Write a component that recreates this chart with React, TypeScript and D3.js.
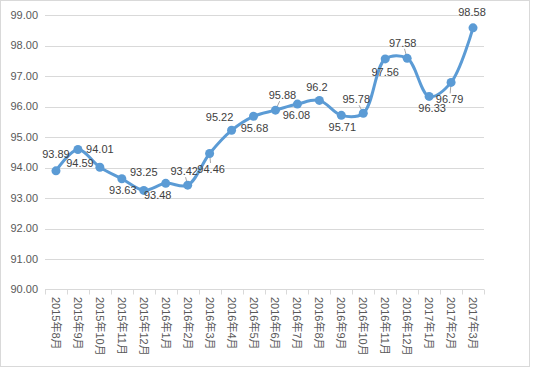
import React from "react";
import * as d3 from "d3";

const months = [
  "2015年8月", "2015年9月", "2015年10月", "2015年11月", "2015年12月",
  "2016年1月", "2016年2月", "2016年3月", "2016年4月", "2016年5月",
  "2016年6月", "2016年7月", "2016年8月", "2016年9月", "2016年10月",
  "2016年11月", "2016年12月", "2017年1月", "2017年2月", "2017年3月",
];
const values = [
  93.89, 94.59, 94.01, 93.63, 93.25, 93.48, 93.42, 94.46, 95.22, 95.68,
  95.88, 96.08, 96.2, 95.71, 95.78, 97.56, 97.58, 96.33, 96.79, 98.58,
];
const valueLabels = [
  "93.89", "94.59", "94.01", "93.63", "93.25", "93.48", "93.42", "94.46", "95.22", "95.68",
  "95.88", "96.08", "96.2", "95.71", "95.78", "97.56", "97.58", "96.33", "96.79", "98.58",
];
const yTicks = [90, 91, 92, 93, 94, 95, 96, 97, 98, 99];

// label placement (dx, dy of label centre from the point), like Excel's "best fit"
const labelOffsets = [
  [0, -17], [2, 14], [0, -18], [1, 11], [0, -18], [-8, 12], [-3.5, -14], [1.5, 15.5],
  [-12, -13.5], [1, 12], [7, -15], [-1, 11], [-2.5, -13], [1, 11.5], [-7, -14],
  [0, 13], [-4.5, -15.5], [3, 12], [-1.5, 17], [-1, -15.5],
];
// labels that were dragged away and got a leader line
const leaders = [6, 7, 10, 14, 16, 18];

const App = () => {
  const ref = React.useRef<HTMLDivElement>(null);

  React.useEffect(() => {
    const W = 534, H = 368;
    const left = 45, right = 484, top = 15, bottom = 289.5;
    d3.select(ref.current).selectAll("*").remove();

    const svg = d3
      .select(ref.current)
      .append("svg")
      .attr("width", W)
      .attr("height", H)
      .style("display", "block")
      .style("font-family", "'Liberation Sans', Arial, 'Noto Sans CJK SC', sans-serif");

    svg
      .append("rect")
      .attr("x", 0.5)
      .attr("y", 0.5)
      .attr("width", 529)
      .attr("height", 366)
      .attr("fill", "#fff")
      .attr("stroke", "#d9d9d9");

    const x = d3.scaleBand().domain(months).range([left, right]);
    const y = d3.scaleLinear().domain([90, 99]).range([bottom, top]);

    // gridlines
    svg
      .append("g")
      .selectAll("line")
      .data(yTicks.slice(1))
      .join("line")
      .attr("x1", left)
      .attr("x2", right)
      .attr("y1", (d) => Math.round(y(d)) + 0.5)
      .attr("y2", (d) => Math.round(y(d)) + 0.5)
      .attr("stroke", "#d9d9d9");

    // y labels
    svg
      .append("g")
      .selectAll("text")
      .data(yTicks)
      .join("text")
      .attr("x", 38)
      .attr("y", (d) => y(d))
      .attr("dy", "0.36em")
      .attr("text-anchor", "end")
      .attr("font-size", 11)
      .attr("fill", "#595959")
      .text((d) => d.toFixed(2));

    // x axis
    const xa = svg.append("g");
    xa.append("line")
      .attr("x1", left)
      .attr("x2", right)
      .attr("y1", bottom)
      .attr("y2", bottom)
      .attr("stroke", "#d9d9d9");
    xa.selectAll("line.tick")
      .data(d3.range(months.length + 1))
      .join("line")
      .attr("class", "tick")
      .attr("x1", (i) => Math.round(left + i * x.bandwidth()) + 0.5)
      .attr("x2", (i) => Math.round(left + i * x.bandwidth()) + 0.5)
      .attr("y1", bottom)
      .attr("y2", bottom + 5)
      .attr("stroke", "#d9d9d9");
    xa.selectAll("text")
      .data(months)
      .join("text")
      .attr("transform", (d) => `translate(${x(d)! + x.bandwidth() / 2 - 4},297) rotate(90)`)
      .attr("font-size", 11)
      .attr("fill", "#595959")
      .text((d) => d);

    const pts: [number, number][] = values.map((v, i) => [
      x(months[i])! + x.bandwidth() / 2,
      y(v),
    ]);

    // leader lines, from label box edge to the point
    svg
      .append("g")
      .selectAll("line")
      .data(leaders)
      .join("line")
      .attr("x1", (i) => pts[i][0])
      .attr("y1", (i) => pts[i][1])
      .attr("x2", (i) => pts[i][0] + labelOffsets[i][0] * 0.6)
      .attr("y2", (i) => pts[i][1] + labelOffsets[i][1] - Math.sign(labelOffsets[i][1]) * 6)
      .attr("stroke", "#a6a6a6")
      .attr("stroke-width", 1);

    svg
      .append("path")
      .attr("d", d3.line().curve(d3.curveCatmullRom.alpha(0.5))(pts))
      .attr("fill", "none")
      .attr("stroke", "#5b9bd5")
      .attr("stroke-width", 3)
      .attr("stroke-linecap", "round");

    svg
      .append("g")
      .selectAll("circle")
      .data(pts)
      .join("circle")
      .attr("cx", (d) => d[0])
      .attr("cy", (d) => d[1])
      .attr("r", 4.5)
      .attr("fill", "#5b9bd5");

    svg
      .append("g")
      .selectAll("text")
      .data(pts)
      .join("text")
      .attr("x", (d, i) => d[0] + labelOffsets[i][0])
      .attr("y", (d, i) => d[1] + labelOffsets[i][1])
      .attr("dy", "0.36em")
      .attr("text-anchor", "middle")
      .attr("font-size", 11)
      .attr("fill", "#404040")
      .text((d, i) => valueLabels[i]);
  }, []);

  return <div ref={ref} style={{ position: "absolute", left: 0, top: 0 }} />;
};

export default App;
